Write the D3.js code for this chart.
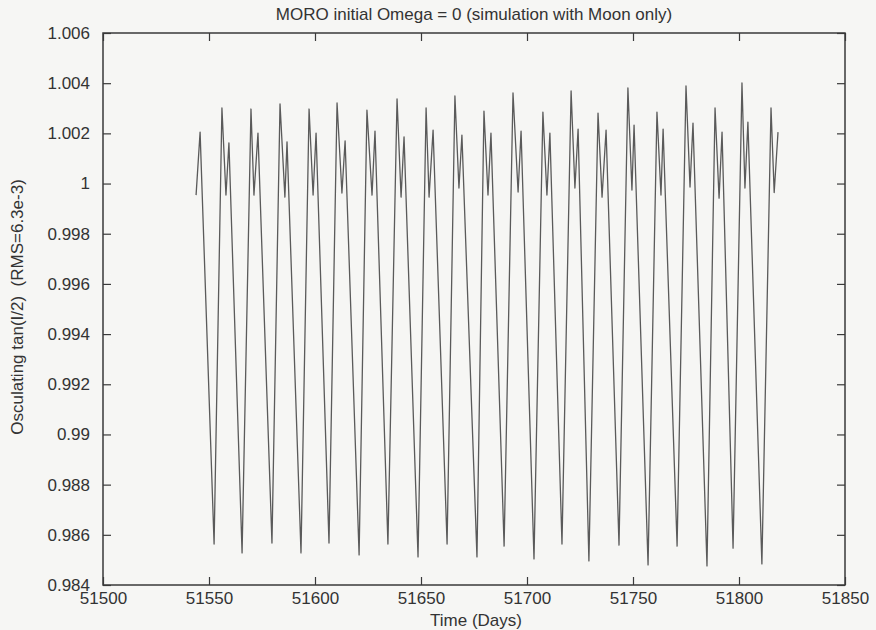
<!DOCTYPE html>
<html>
<head>
<meta charset="utf-8">
<script src="https://cdn.jsdelivr.net/npm/d3@7/dist/d3.min.js"></script>
<style>
  html, body { margin: 0; padding: 0; background: #f6f6f4; }
  svg { display: block; }
  text { font-family: "Liberation Sans", Arial, Helvetica, sans-serif; fill: #333; white-space: pre; }
</style>
</head>
<body>
<svg id="chart" width="876" height="630"></svg>
<script>
// Osculating tan(I/2) over time, MORO run with lunar perturbation only
const days = [
  51543.9, 51545.8,
  51552.4, 51556.1, 51558.0, 51559.4,
  51565.6, 51569.8, 51571.2, 51573.1,
  51579.7, 51583.5, 51585.8, 51586.8,
  51593.4, 51597.2, 51599.1, 51600.5,
  51606.6, 51610.4, 51612.7, 51614.2,
  51620.8, 51624.5, 51626.9, 51628.3,
  51634.4, 51638.7, 51640.6, 51642.0,
  51648.6, 51652.4, 51653.8, 51655.7,
  51662.3, 51666.0, 51667.9, 51669.3,
  51676.4, 51679.7, 51681.6, 51683.0,
  51689.2, 51693.4, 51695.8, 51697.2,
  51703.3, 51707.5, 51709.4, 51710.8,
  51716.5, 51720.8, 51722.6, 51724.1,
  51729.2, 51733.5, 51735.4, 51737.3,
  51743.4, 51747.6, 51749.5, 51750.5,
  51757.1, 51761.3, 51763.2, 51764.2,
  51770.8, 51775.0, 51776.9, 51778.3,
  51784.9, 51788.7, 51790.6, 51792.0,
  51797.2, 51801.4, 51802.8, 51804.2,
  51810.8, 51815.1, 51816.6, 51818.4
];
const tanHalfI = [
  0.99954, 1.00205,
  0.98563, 1.00301, 0.99954, 1.00162,
  0.98528, 1.00297, 0.99954, 1.00201,
  0.98567, 1.00317, 0.99946, 1.00166,
  0.98528, 1.00297, 0.99954, 1.00201,
  0.98567, 1.00321, 0.99962, 1.00170,
  0.98520, 1.00293, 0.99954, 1.00209,
  0.98563, 1.00337, 0.99946, 1.00186,
  0.98512, 1.00301, 0.99946, 1.00213,
  0.98563, 1.00349, 0.99982, 1.00193,
  0.98512, 1.00289, 0.99954, 1.00201,
  0.98555, 1.00361, 0.99966, 1.00209,
  0.98504, 1.00285, 0.99954, 1.00201,
  0.98563, 1.00369, 0.99982, 1.00217,
  0.98496, 1.00281, 0.99946, 1.00213,
  0.98559, 1.00381, 0.99974, 1.00233,
  0.98480, 1.00285, 0.99954, 1.00217,
  0.98555, 1.00389, 0.99986, 1.00241,
  0.98476, 1.00301, 0.99942, 1.00205,
  0.98547, 1.00401, 0.99982, 1.00245,
  0.98484, 1.00301, 0.99964, 1.00205
];
const xTicks = [51500, 51550, 51600, 51650, 51700, 51750, 51800, 51850];
const yTicks = [0.984, 0.986, 0.988, 0.99, 0.992, 0.994, 0.996, 0.998, 1, 1.002, 1.004, 1.006];

const titleText = "MORO initial Omega = 0 (simulation with Moon only)";
const xLabel = "Time (Days)";
const yLabel = "Osculating tan(I/2)  (RMS=6.3e-3)";

const svg = d3.select("#chart");
const margin = { left: 103, right: 31, top: 33, bottom: 45 };
const W = 876, H = 630;

const x = d3.scaleLinear().domain([51500, 51850]).range([margin.left, W - margin.right]);
const y = d3.scaleLinear().domain([0.984, 1.006]).range([H - margin.bottom, margin.top]);

const fmt = d => String(+d.toFixed(3));
const tick = 8;
const axisColor = "#3a3a3a";

// Data curve
const points = days.map((d, i) => [d, tanHalfI[i]]);
svg.append("path")
  .datum(points)
  .attr("fill", "none")
  .attr("stroke", "#5a5a5a")
  .attr("stroke-width", 1.3)
  .attr("stroke-linejoin", "round")
  .attr("d", d3.line().x(d => x(d[0])).y(d => y(d[1])));

// Axes with inward ticks, mirrored on top and right
function styleAxis(g) {
  g.select(".domain").remove();
  g.selectAll(".tick line").attr("stroke", axisColor).attr("stroke-width", 1.2);
  g.selectAll(".tick text").attr("font-size", 17).attr("fill", "#333")
    .attr("font-family", "'Liberation Sans', Arial, sans-serif");
}

svg.append("g")
  .attr("transform", `translate(0,${y.range()[0]})`)
  .call(d3.axisBottom(x).tickValues(xTicks).tickFormat(fmt).tickSize(-tick).tickPadding(7))
  .call(styleAxis);

svg.append("g")
  .attr("transform", `translate(0,${y.range()[1]})`)
  .call(d3.axisTop(x).tickValues(xTicks).tickFormat("").tickSize(-tick))
  .call(styleAxis);

svg.append("g")
  .attr("transform", `translate(${x.range()[0]},0)`)
  .call(d3.axisLeft(y).tickValues(yTicks).tickFormat(fmt).tickSize(-tick).tickPadding(13))
  .call(styleAxis);

svg.append("g")
  .attr("transform", `translate(${x.range()[1]},0)`)
  .call(d3.axisRight(y).tickValues(yTicks).tickFormat("").tickSize(-tick))
  .call(styleAxis);

// Plot frame
svg.append("rect")
  .attr("x", x.range()[0]).attr("y", y.range()[1])
  .attr("width", x.range()[1] - x.range()[0])
  .attr("height", y.range()[0] - y.range()[1])
  .attr("fill", "none")
  .attr("stroke", axisColor)
  .attr("stroke-width", 1.5);

// Titles
svg.append("text")
  .attr("x", (x.range()[0] + x.range()[1]) / 2)
  .attr("y", 20)
  .attr("text-anchor", "middle")
  .attr("font-size", 17)
  .text(titleText);

svg.append("text")
  .attr("x", 476)
  .attr("y", 626)
  .attr("text-anchor", "middle")
  .attr("font-size", 17)
  .text(xLabel);

svg.append("text")
  .attr("transform", `translate(23,${(y.range()[0] + y.range()[1]) / 2 - 2}) rotate(-90)`)
  .attr("text-anchor", "middle")
  .attr("font-size", 17)
  .text(yLabel);
</script>
</body>
</html>
